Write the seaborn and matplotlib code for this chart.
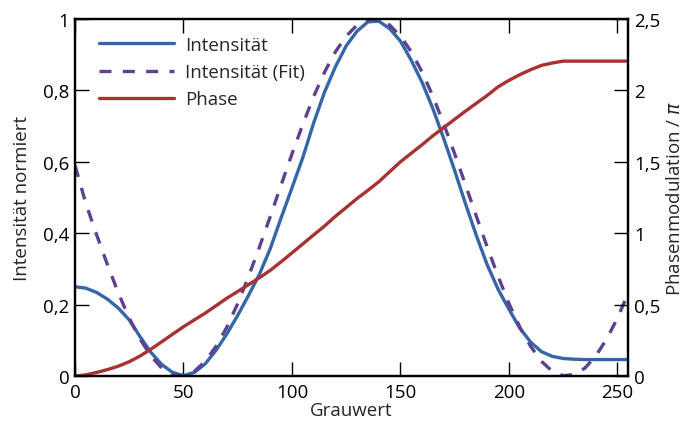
import numpy as np
import pandas as pd
import matplotlib
matplotlib.use("Agg")
import matplotlib.pyplot as plt
import seaborn as sns

sns.set_theme(style="white")
plt.rcParams["font.family"] = ["Open Sans", "DejaVu Sans"]

grauwert = list(range(0, 256, 5))

intensitaet = [
    0.250, 0.246, 0.234, 0.215, 0.190, 0.157, 0.110, 0.066, 0.032, 0.010,
    0.001, 0.010, 0.034, 0.072, 0.118, 0.170, 0.226, 0.285, 0.357, 0.443,
    0.527, 0.612, 0.709, 0.795, 0.866, 0.925, 0.966, 0.992, 0.994, 0.973,
    0.938, 0.884, 0.822, 0.748, 0.664, 0.575, 0.482, 0.393, 0.311, 0.243,
    0.187, 0.134, 0.095, 0.068, 0.055, 0.049, 0.047, 0.046, 0.046, 0.046,
    0.046, 0.046,
]

intensitaet_fit = [
    0.590, 0.483, 0.395, 0.311, 0.232, 0.162, 0.103, 0.056, 0.022, 0.004,
    0.001, 0.013, 0.041, 0.083, 0.137, 0.203, 0.279, 0.361, 0.447, 0.535,
    0.622, 0.705, 0.783, 0.851, 0.908, 0.952, 0.983, 0.998, 0.998, 0.983,
    0.952, 0.908, 0.851, 0.783, 0.705, 0.622, 0.535, 0.447, 0.361, 0.279,
    0.203, 0.137, 0.083, 0.041, 0.013, 0.001, 0.004, 0.022, 0.056, 0.103,
    0.162, 0.232,
]

phase = [
    0.000, 0.008, 0.025, 0.045, 0.069, 0.100, 0.140, 0.188, 0.240, 0.293,
    0.345, 0.393, 0.440, 0.492, 0.545, 0.592, 0.640, 0.688, 0.740, 0.800,
    0.862, 0.925, 0.988, 1.050, 1.118, 1.180, 1.243, 1.300, 1.360, 1.430,
    1.500, 1.560, 1.620, 1.683, 1.740, 1.798, 1.855, 1.910, 1.965, 2.025,
    2.070, 2.110, 2.145, 2.175, 2.192, 2.205, 2.205, 2.205, 2.205, 2.205,
    2.205, 2.205,
]

left_ticks = [0, 0.2, 0.4, 0.6, 0.8, 1.0]
left_labels = ["0", "0,2", "0,4", "0,6", "0,8", "1"]
right_ticks = [0, 0.5, 1.0, 1.5, 2.0, 2.5]
right_labels = ["0", "0,5", "1", "1,5", "2", "2,5"]
x_ticks = [0, 50, 100, 150, 200, 250]

df = pd.DataFrame({
    "Grauwert": grauwert,
    "Intensität": intensitaet,
    "Fit": intensitaet_fit,
    "Phase": phase,
})

c_blue = "#3566a8"
c_purple = "#5e4190"
c_red = "#a83232"
lw = 2.4

fig = plt.figure(figsize=(6.85, 4.31), dpi=100)
ax = fig.add_axes([0.1095, 0.1253, 0.8077, 0.8283])
ax2 = ax.twinx()

sns.lineplot(data=df, x="Grauwert", y="Intensität", ax=ax, color=c_blue,
             lw=lw, label="Intensität", legend=False)
sns.lineplot(data=df, x="Grauwert", y="Fit", ax=ax, color=c_purple,
             lw=lw, label="Intensität (Fit)", legend=False)
ax.lines[-1].set_dashes((3.6, 3.4))
sns.lineplot(data=df, x="Grauwert", y="Phase", ax=ax2, color=c_red,
             lw=lw, label="Phase", legend=False)

ax.set_xlim(0, 255)
ax.set_ylim(0, 1)
ax2.set_ylim(0, 2.5)

fs = 13.5
ax.set_xticks(x_ticks)
ax.set_xticklabels([str(t) for t in x_ticks], fontsize=fs)
ax.set_yticks(left_ticks)
ax.set_yticklabels(left_labels, fontsize=fs)
ax2.set_yticks(right_ticks)
ax2.set_yticklabels(right_labels, fontsize=fs)

ax.tick_params(axis="x", direction="in", length=10, width=1, top=True,
               bottom=True, pad=5, colors="black")
ax.tick_params(axis="y", direction="in", length=10, width=1, left=True,
               right=False, pad=4, colors="black")
ax2.tick_params(axis="y", direction="in", length=10, width=1, right=True,
                left=False, pad=4, colors="black")

ax.set_xlabel("Grauwert", fontsize=fs, labelpad=0)
ax.set_ylabel("Intensität normiert", fontsize=fs, labelpad=9)
ax2.set_ylabel(r"Phasenmodulation / $\it{\pi}$", fontsize=fs, labelpad=4)

for a in (ax, ax2):
    for s in a.spines.values():
        s.set_linewidth(1.6)
        s.set_color("black")
ax2.set_zorder(ax.zorder + 1)
ax2.patch.set_visible(False)

handles = ax.get_lines() + ax2.get_lines()
labels = ["Intensität", "Intensität (Fit)", "Phase"]
ax.legend(handles, labels, loc="upper left", frameon=False, fontsize=fs,
          handlelength=4.0, handletextpad=0.6, labelspacing=0.5,
          borderaxespad=0.3, bbox_to_anchor=(0.02, 0.99))

fig.savefig("out.png", dpi=100)
